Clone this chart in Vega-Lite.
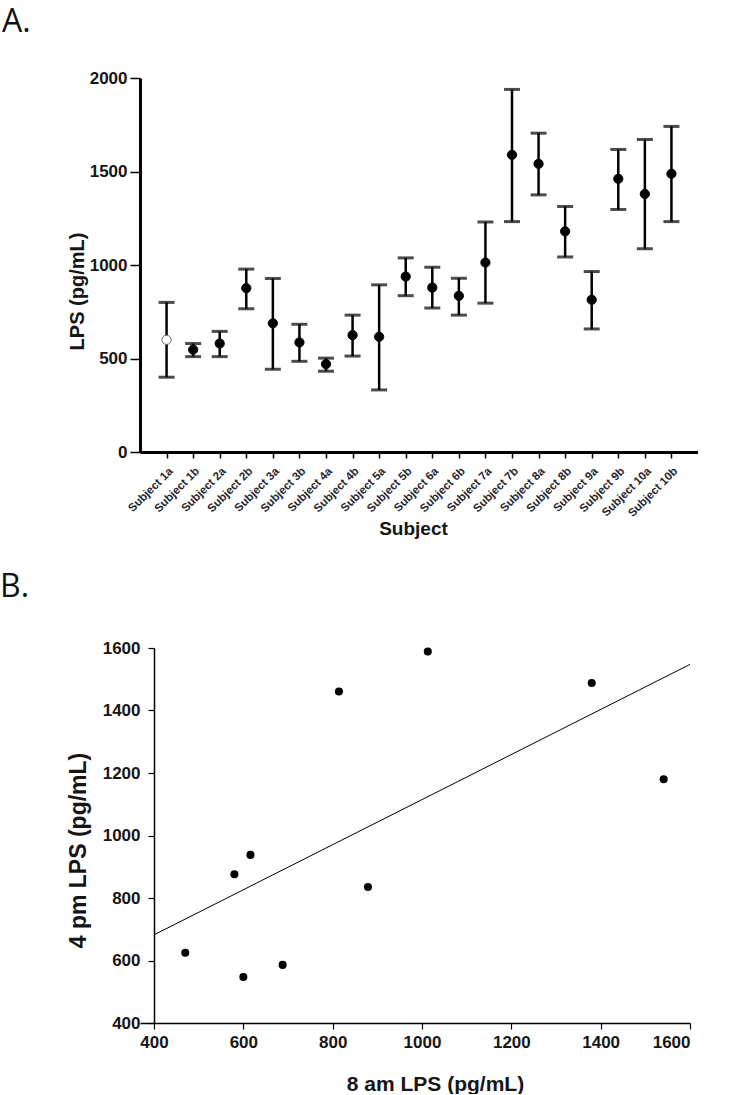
{
  "$schema": "https://vega.github.io/schema/vega-lite/v6.json",
  "padding": {"left": 0, "top": 6, "right": 0, "bottom": 0},
  "background": "white",
  "spacing": 33,
  "columns": 1,
  "align": "none",
  "config": {
    "view": {"stroke": null},
    "font": "Liberation Sans",
    "axis": {"grid": false, "domainColor": "black", "tickColor": "black", "labelColor": "#151515", "titleColor": "#151515", "labelFont": "Liberation Sans", "labelFontWeight": "bold", "titleFont": "Liberation Sans", "titleFontWeight": "bold"},
    "title": {"font": "Open Sans", "fontWeight": "normal", "fontSize": 32, "color": "#111", "anchor": "start", "frame": "group", "baseline": "alphabetic"}
  },
  "datasets": {
    "lps": [
      {"subject": "Subject 1a", "value": 600, "lo": 400, "hi": 800},
      {"subject": "Subject 1b", "value": 547, "lo": 510, "hi": 580},
      {"subject": "Subject 2a", "value": 580, "lo": 510, "hi": 645},
      {"subject": "Subject 2b", "value": 876, "lo": 766, "hi": 978},
      {"subject": "Subject 3a", "value": 688, "lo": 443, "hi": 928},
      {"subject": "Subject 3b", "value": 586, "lo": 485, "hi": 683},
      {"subject": "Subject 4a", "value": 470, "lo": 432, "hi": 502},
      {"subject": "Subject 4b", "value": 625, "lo": 513, "hi": 732},
      {"subject": "Subject 5a", "value": 616, "lo": 332, "hi": 894},
      {"subject": "Subject 5b", "value": 938, "lo": 836, "hi": 1038},
      {"subject": "Subject 6a", "value": 879, "lo": 770, "hi": 988},
      {"subject": "Subject 6b", "value": 835, "lo": 732, "hi": 929},
      {"subject": "Subject 7a", "value": 1013, "lo": 796, "hi": 1230},
      {"subject": "Subject 7b", "value": 1589, "lo": 1232, "hi": 1939},
      {"subject": "Subject 8a", "value": 1541, "lo": 1375, "hi": 1705},
      {"subject": "Subject 8b", "value": 1180, "lo": 1043, "hi": 1313},
      {"subject": "Subject 9a", "value": 814, "lo": 658, "hi": 965},
      {"subject": "Subject 9b", "value": 1461, "lo": 1297, "hi": 1618},
      {"subject": "Subject 10a", "value": 1380, "lo": 1087, "hi": 1671},
      {"subject": "Subject 10b", "value": 1488, "lo": 1232, "hi": 1741}
    ],
    "pairs": [
      {"subject": 1, "am8": 600, "pm4": 547},
      {"subject": 2, "am8": 580, "pm4": 876},
      {"subject": 3, "am8": 688, "pm4": 586},
      {"subject": 4, "am8": 470, "pm4": 625},
      {"subject": 5, "am8": 616, "pm4": 938},
      {"subject": 6, "am8": 879, "pm4": 835},
      {"subject": 7, "am8": 1013, "pm4": 1589},
      {"subject": 8, "am8": 1541, "pm4": 1180},
      {"subject": 9, "am8": 814, "pm4": 1461},
      {"subject": 10, "am8": 1380, "pm4": 1488}
    ]
  },
  "concat": [
    {
      "width": 558,
      "height": 374,
      "title": {"text": "A.", "dx": -138, "offset": 30},
      "data": {"name": "lps"},
      "encoding": {
        "x": {
          "field": "subject", "type": "nominal", "sort": null,
          "scale": {"type": "point", "padding": 1},
          "axis": {"title": "Subject", "titleFontSize": 19, "titleX": 273, "titleY": 82, "titleBaseline": "alphabetic", "labelAngle": -45, "labelFontSize": 11.5, "labelColor": "#26262f", "labelPadding": 7, "tickSize": 6, "tickWidth": 1.5, "domainWidth": 3}
        }
      },
      "layer": [
        {
          "mark": {"type": "rule", "color": "black", "strokeWidth": 2.5},
          "encoding": {
            "y": {"field": "lo", "type": "quantitative", "scale": {"domain": [0, 2000], "nice": false}, "axis": {"title": "LPS (pg/mL)", "format": "d", "titleFontSize": 20, "titlePadding": 2, "titleY": 213, "values": [0, 500, 1000, 1500, 2000], "labelFontSize": 17, "tickSize": 10, "tickWidth": 1.5, "domainWidth": 3, "labelPadding": 3}},
            "y2": {"field": "hi"}
          }
        },
        {
          "mark": {"type": "tick", "color": "black", "size": 16, "thickness": 3, "orient": "horizontal"},
          "encoding": {"y": {"field": "lo", "type": "quantitative"}}
        },
        {
          "mark": {"type": "tick", "color": "black", "size": 16, "thickness": 3, "orient": "horizontal"},
          "encoding": {"y": {"field": "hi", "type": "quantitative"}}
        },
        {
          "mark": {"type": "point", "shape": "circle", "size": 85, "opacity": 1, "strokeWidth": 1},
          "encoding": {
            "y": {"field": "value", "type": "quantitative"},
            "fill": {"condition": {"test": "datum.subject === 'Subject 1a'", "value": "white"}, "value": "black"},
            "stroke": {"condition": {"test": "datum.subject === 'Subject 1a'", "value": "#666"}, "value": "black"}
          }
        }
      ]
    },
    {
      "width": 550,
      "height": 375,
      "title": {"text": "B.", "dx": -140, "offset": 35},
      "data": {"name": "pairs"},
      "encoding": {
        "x": {
          "field": "am8", "type": "quantitative",
          "scale": {"domain": [368.66, 1600], "nice": false, "zero": false},
          "axis": {"title": "8 am LPS (pg/mL)", "format": "d", "titleFontSize": 21, "titleX": 295, "titleY": 67, "titleBaseline": "alphabetic", "values": [400, 600, 800, 1000, 1200, 1400, 1600], "labelFontSize": 17, "labelPadding": 5, "tickSize": 6, "tickWidth": 1.2, "domainWidth": 1.5}
        },
        "y": {
          "field": "pm4", "type": "quantitative",
          "scale": {"domain": [400, 1600], "nice": false, "zero": false},
          "axis": {"title": "4 pm LPS (pg/mL)", "format": "d", "offset": -14, "titleFontSize": 23, "titlePadding": 12, "titleY": 202, "values": [400, 600, 800, 1000, 1200, 1400, 1600], "labelFontSize": 17, "labelPadding": 8, "tickSize": 6, "tickWidth": 1.2, "domainWidth": 1.5}
        }
      },
      "layer": [
        {
          "transform": [{"regression": "pm4", "on": "am8", "extent": [400, 1600]}],
          "mark": {"type": "line", "color": "black", "strokeWidth": 1}
        },
        {
          "mark": {"type": "circle", "size": 65, "color": "black", "opacity": 1}
        }
      ]
    }
  ]
}
